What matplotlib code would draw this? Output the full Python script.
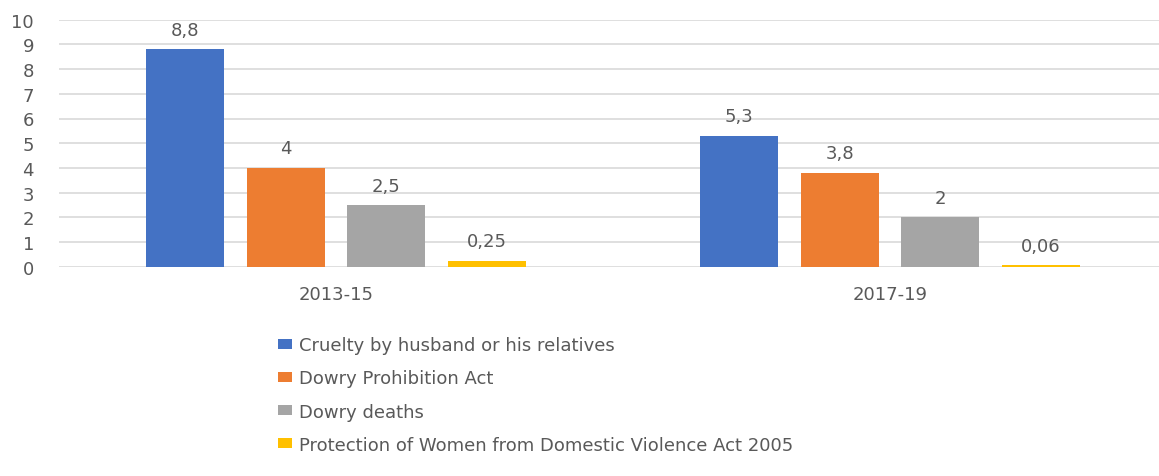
import numpy as np
import matplotlib.pyplot as plt
from matplotlib.patches import Patch

# data
periods = ["2013-15", "2017-19"]
series_names = [
    "Cruelty by husband or his relatives",
    "Dowry Prohibition Act",
    "Dowry deaths",
    "Protection of Women from Domestic Violence Act 2005",
]
cruelty = [8.8, 5.3]
dowry_act = [4, 3.8]
dowry_deaths = [2.5, 2]
dv_act = [0.25, 0.06]
value_labels = [["8,8", "5,3"], ["4", "3,8"], ["2,5", "2"], ["0,25", "0,06"]]

colors = ["#4472C4", "#ED7D31", "#A5A5A5", "#FFC000"]
text_col = "#595959"

plt.rcParams['font.family'] = ['DejaVu Sans']

W, H = 1159, 477
fig = plt.figure(figsize=(W / 100, H / 100), dpi=100)
# axes spans x 59..1167 px (right edge runs off the picture), y 20.7..267.7 px
ax = fig.add_axes([59 / W, (H - 267.7) / H, 1108 / W, 247 / H])

x = np.arange(len(periods))
bar_w = 0.1408
step = 0.1814
all_series = [cruelty, dowry_act, dowry_deaths, dv_act]
for i, vals in enumerate(all_series):
    pos = x + (i - 1.5) * step
    bars = ax.bar(pos, vals, width=bar_w, color=colors[i], zorder=3)
    for b, lab in zip(bars, value_labels[i]):
        ax.annotate(lab, (b.get_x() + b.get_width() / 2, b.get_height()),
                    xytext=(0, 14), textcoords='offset points',
                    ha='center', va='center', fontsize=13, color=text_col)

ax.set_xlim(-0.5, 1.5)
ax.set_ylim(0, 10)
ax.set_yticks(range(0, 11))
ax.set_xticks(x)
ax.set_xticklabels(periods)
ax.tick_params(axis='both', length=0, colors=text_col, labelsize=13)
ax.tick_params(axis='y', pad=18)
ax.tick_params(axis='x', pad=13)
ax.grid(axis='y', color='#D9D9D9', linewidth=1.2, zorder=0)
for s in ax.spines.values():
    s.set_visible(False)

handles = [Patch(facecolor=c, edgecolor='none') for c in colors]
leg = fig.legend(handles, series_names, loc='upper left',
                 bbox_to_anchor=(271 / W, 1 - 330 / H), frameon=False,
                 fontsize=13, handlelength=0.78, handleheight=0.45,
                 handletextpad=0.39, labelspacing=0.84, borderaxespad=0)
for t in leg.get_texts():
    t.set_color(text_col)

fig.savefig("out.png", dpi=100, facecolor='white')
